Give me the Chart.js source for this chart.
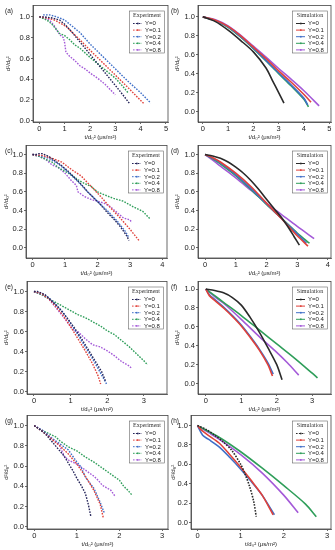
<!DOCTYPE html>
<html>
<head>
<meta charset="utf-8">
<script src="https://cdn.jsdelivr.net/npm/chart.js@4.4.0/dist/chart.umd.min.js"></script>
<style>
  html, body { margin: 0; padding: 0; background: #fff; }
  #fig { position: relative; width: 335px; height: 550px; overflow: hidden; }
  .panel { position: absolute; }
</style>
</head>
<body>
<div id="fig"></div>
<script>
// Serien und Achsen
const seriesLabels = ["Y=0", "Y=0.1", "Y=0.2", "Y=0.4", "Y=0.8"];
const expColors = ["#25255a", "#e0413a", "#3f6fc8", "#2f9e5a", "#a45ad8"];
const simColors = ["#2a2a2a", "#e0413a", "#3f6fc8", "#2f9e5a", "#a45ad8"];
const yTicks = [0, 0.2, 0.4, 0.6, 0.8, 1.0];
const xTicks5 = [0, 1, 2, 3, 4, 5];
const xTicks4 = [0, 1, 2, 3, 4];
const xTicks3 = [0, 1, 2, 3];
const xTitle = "t/d\u2080\u00b2 (\u03bcs/m\u00b2)";
const yTitle = "d\u00b2/d\u2080\u00b2";

// (a) Experiment
const aY0  = [[0,1.0],[0.2,1.0],[0.5,0.99],[0.8,0.97],[1.0,0.93],[1.3,0.85],[1.6,0.76],[2.0,0.64],[2.4,0.52],[2.8,0.4],[3.2,0.28],[3.55,0.17]];
const aY01 = [[0,1.0],[0.3,0.99],[0.6,0.97],[0.9,0.93],[1.1,0.9],[1.3,0.85],[1.6,0.78],[2.0,0.68],[2.5,0.56],[3.0,0.44],[3.5,0.32],[3.9,0.22],[4.15,0.16]];
const aY02 = [[0.15,1.02],[0.4,1.02],[0.7,1.0],[1.0,0.97],[1.3,0.91],[1.6,0.85],[2.0,0.74],[2.5,0.62],[3.0,0.5],[3.5,0.38],[4.0,0.27],[4.4,0.17]];
const aY04 = [[0,1.0],[0.3,0.97],[0.5,0.93],[0.7,0.87],[0.8,0.84],[1.0,0.82],[1.2,0.78],[1.4,0.73],[1.6,0.7],[2.0,0.61],[2.3,0.55],[2.6,0.49],[3.0,0.41],[3.3,0.33],[3.5,0.27]];
const aY08 = [[0,1.0],[0.2,0.99],[0.4,0.97],[0.6,0.91],[0.8,0.83],[0.95,0.8],[1.0,0.75],[1.05,0.66],[1.2,0.62],[1.4,0.58],[1.6,0.53],[1.8,0.5],[2.0,0.46],[2.3,0.41],[2.6,0.35],[2.8,0.3],[3.0,0.25]];

// (b) Simulation
const bY0  = [[0,1.0],[0.5,0.95],[1.0,0.86],[1.5,0.75],[2.0,0.63],[2.5,0.46],[2.75,0.33],[3.0,0.2],[3.21,0.09]];
const bY01 = [[0,1.0],[0.5,0.965],[1.0,0.9],[1.5,0.8],[2.0,0.68],[2.5,0.56],[3.0,0.43],[3.5,0.31],[4.0,0.18],[4.28,0.1]];
const bY02 = [[0,1.0],[0.5,0.96],[1.0,0.895],[1.5,0.79],[2.0,0.67],[2.5,0.54],[3.0,0.41],[3.5,0.28],[4.0,0.14],[4.15,0.07]];
const bY04 = [[0,1.0],[0.5,0.96],[1.0,0.89],[1.5,0.785],[2.0,0.665],[2.5,0.535],[3.0,0.4],[3.5,0.27],[4.0,0.13],[4.18,0.05]];
const bY08 = [[0,1.0],[0.5,0.97],[1.0,0.905],[1.5,0.805],[2.0,0.69],[2.5,0.575],[3.0,0.455],[3.5,0.34],[4.0,0.22],[4.6,0.06]];

// (c) Experiment
const cY0  = [[0,1.0],[0.1,1.0],[0.2,1.01],[0.3,1.01],[0.5,0.98],[0.7,0.93],[0.9,0.88],[1.1,0.82],[1.3,0.75],[1.5,0.68],[1.7,0.6],[1.9,0.53],[2.1,0.46],[2.3,0.38],[2.5,0.31],[2.7,0.23],[2.9,0.13],[2.97,0.08]];
const cY01 = [[0,1.0],[0.3,0.99],[0.6,0.96],[0.9,0.92],[1.2,0.84],[1.5,0.77],[1.8,0.66],[2.1,0.55],[2.4,0.43],[2.7,0.32],[3.0,0.2],[3.3,0.07]];
const cY02 = [[0,1.0],[0.2,0.99],[0.5,0.96],[0.8,0.9],[1.1,0.81],[1.4,0.71],[1.7,0.6],[2.0,0.5],[2.3,0.4],[2.6,0.29],[2.85,0.18],[2.95,0.12]];
const cY04 = [[0,1.0],[0.2,0.98],[0.4,0.95],[0.6,0.92],[0.8,0.86],[1.0,0.82],[1.2,0.78],[1.4,0.73],[1.6,0.69],[1.8,0.66],[2.0,0.6],[2.2,0.57],[2.5,0.53],[2.8,0.5],[3.1,0.44],[3.4,0.39],[3.62,0.31]];
const cY08 = [[0,1.0],[0.2,0.98],[0.4,0.95],[0.6,0.89],[0.8,0.86],[1.0,0.8],[1.2,0.72],[1.35,0.67],[1.4,0.6],[1.6,0.55],[1.8,0.52],[2.0,0.5],[2.2,0.48],[2.4,0.44],[2.6,0.38],[2.8,0.32],[3.0,0.3],[3.06,0.27]];

// (d) Simulation
const dY0  = [[0,1.0],[0.25,0.985],[0.5,0.96],[0.75,0.92],[1.0,0.865],[1.25,0.8],[1.5,0.72],[1.75,0.625],[2.0,0.52],[2.25,0.42],[2.5,0.32],[2.75,0.2],[2.9,0.12],[3.07,0.03]];
const dY01 = [[0,1.0],[0.25,0.965],[0.5,0.92],[1.0,0.8],[1.5,0.655],[2.0,0.48],[2.5,0.31],[3.0,0.13],[3.35,0.02]];
const dY02 = [[0,1.0],[0.25,0.96],[0.5,0.91],[1.0,0.785],[1.5,0.635],[2.0,0.47],[2.5,0.31],[3.0,0.15],[3.3,0.05]];
const dY04 = [[0,1.0],[0.25,0.955],[0.5,0.9],[1.0,0.775],[1.5,0.625],[2.0,0.465],[2.5,0.315],[3.0,0.16],[3.4,0.05]];
const dY08 = [[0,1.0],[0.25,0.94],[0.5,0.875],[1.0,0.75],[1.5,0.615],[2.0,0.48],[2.5,0.355],[3.0,0.23],[3.55,0.1]];

// (e) Experiment
const eY0  = [[0,1.0],[0.1,1.0],[0.3,0.97],[0.5,0.9],[0.7,0.83],[0.9,0.74],[1.1,0.64],[1.3,0.53],[1.5,0.41],[1.7,0.29],[1.85,0.2],[1.95,0.11]];
const eY01 = [[0,1.0],[0.2,0.98],[0.4,0.93],[0.6,0.85],[0.8,0.76],[1.0,0.65],[1.2,0.53],[1.4,0.41],[1.6,0.28],[1.75,0.16],[1.82,0.08]];
const eY02 = [[0,1.0],[0.2,0.98],[0.4,0.94],[0.6,0.87],[0.8,0.79],[1.0,0.68],[1.2,0.57],[1.4,0.45],[1.6,0.33],[1.8,0.2],[1.98,0.08]];
const eY04 = [[0,1.0],[0.2,0.97],[0.4,0.93],[0.6,0.89],[0.8,0.85],[1.0,0.81],[1.2,0.77],[1.4,0.74],[1.6,0.7],[1.8,0.66],[2.0,0.61],[2.2,0.57],[2.4,0.51],[2.6,0.45],[2.8,0.38],[3.0,0.31],[3.1,0.27]];
const eY08 = [[0,1.0],[0.2,0.97],[0.4,0.93],[0.6,0.84],[0.8,0.75],[1.0,0.65],[1.1,0.61],[1.2,0.6],[1.4,0.53],[1.6,0.47],[1.8,0.45],[2.0,0.41],[2.2,0.36],[2.4,0.3],[2.6,0.26],[2.65,0.24]];

// (f) Simulation
const fY0  = [[0,1.0],[0.25,0.985],[0.5,0.96],[0.75,0.91],[1.0,0.83],[1.25,0.7],[1.5,0.55],[1.75,0.38],[2.0,0.2],[2.15,0.04]];
const fY01 = [[0,1.0],[0.1,0.93],[0.25,0.88],[0.5,0.8],[0.75,0.71],[1.0,0.61],[1.25,0.49],[1.5,0.36],[1.75,0.2],[1.88,0.08]];
const fY02 = [[0,1.0],[0.1,0.94],[0.25,0.89],[0.5,0.81],[0.75,0.72],[1.0,0.62],[1.25,0.5],[1.5,0.37],[1.75,0.22],[1.9,0.1]];
const fY04 = [[0,1.0],[0.25,0.93],[0.5,0.86],[1.0,0.72],[1.5,0.57],[2.0,0.42],[2.5,0.27],[3.0,0.11],[3.15,0.06]];
const fY08 = [[0,1.0],[0.25,0.92],[0.5,0.85],[1.0,0.68],[1.5,0.5],[2.0,0.33],[2.3,0.22],[2.62,0.09]];

// (g) Experiment
const gY0  = [[0,1.0],[0.1,0.97],[0.2,0.94],[0.3,0.9],[0.4,0.85],[0.5,0.8],[0.6,0.75],[0.7,0.7],[0.8,0.63],[0.9,0.56],[1.0,0.48],[1.1,0.41],[1.2,0.33],[1.27,0.22],[1.33,0.1]];
const gY01 = [[0,1.0],[0.2,0.94],[0.4,0.87],[0.6,0.8],[0.8,0.72],[1.0,0.62],[1.2,0.5],[1.4,0.36],[1.55,0.22],[1.62,0.09]];
const gY02 = [[0,1.0],[0.2,0.95],[0.4,0.88],[0.6,0.82],[0.8,0.76],[1.0,0.64],[1.1,0.59],[1.2,0.49],[1.4,0.38],[1.55,0.24],[1.65,0.13]];
const gY04 = [[0,1.0],[0.1,0.97],[0.3,0.93],[0.5,0.89],[0.6,0.85],[0.8,0.79],[1.0,0.75],[1.2,0.69],[1.4,0.64],[1.6,0.58],[1.8,0.52],[2.0,0.46],[2.1,0.4],[2.2,0.36],[2.3,0.31]];
const gY08 = [[0,1.0],[0.2,0.95],[0.4,0.88],[0.6,0.8],[0.7,0.7],[0.8,0.66],[1.0,0.62],[1.2,0.56],[1.4,0.5],[1.5,0.46],[1.6,0.41],[1.8,0.36],[1.9,0.3]];

// (h) Simulation
const hY0  = [[0,1.0],[0.2,0.96],[0.4,0.9],[0.6,0.83],[0.8,0.74],[1.0,0.6],[1.1,0.5],[1.2,0.38],[1.3,0.22],[1.36,0.06]];
const hY01 = [[0,1.0],[0.1,0.95],[0.25,0.9],[0.5,0.82],[0.75,0.7],[1.0,0.57],[1.25,0.43],[1.5,0.28],[1.75,0.08]];
const hY02 = [[0,1.0],[0.12,0.9],[0.25,0.86],[0.5,0.78],[0.75,0.67],[1.0,0.55],[1.25,0.42],[1.5,0.28],[1.78,0.08]];
const hY04 = [[0,1.0],[0.5,0.88],[1.0,0.73],[1.5,0.56],[2.0,0.38],[2.5,0.19],[2.75,0.06]];
const hY08 = [[0,1.0],[0.25,0.93],[0.5,0.86],[1.0,0.7],[1.5,0.51],[2.0,0.28],[2.33,0.1]];

// Panel-Layout (Rahmen in Seitenpixeln: links, oben, rechts, unten)
const panels = [
  { tag: "(a)", kind: "Experiment", col: 0, sets: [aY0, aY01, aY02, aY04, aY08], xMin: -0.25, xMax: 5.08, xTicks: xTicks5, yMin: -0.012, yMax: 1.11, frame: [33, 3, 168, 122], yTitlePad: 5 },
  { tag: "(b)", kind: "Simulation", col: 1, sets: [bY0, bY01, bY02, bY04, bY08], xMin: -0.19, xMax: 5.07, xTicks: xTicks5, yMin: -0.11, yMax: 1.12, frame: [198, 3, 331, 122], yTitlePad: 6 },
  { tag: "(c)", kind: "Experiment", col: 0, sets: [cY0, cY01, cY02, cY04, cY08], xMin: -0.2, xMax: 4.14, xTicks: xTicks4, yMin: -0.108, yMax: 1.097, frame: [26, 143, 167, 258], yTitlePad: 3 },
  { tag: "(d)", kind: "Simulation", col: 1, sets: [dY0, dY01, dY02, dY04, dY08], xMin: -0.23, xMax: 4.1, xTicks: xTicks4, yMin: -0.108, yMax: 1.097, frame: [198, 143, 331, 258], yTitlePad: 6 },
  { tag: "(e)", kind: "Experiment", col: 0, sets: [eY0, eY01, eY02, eY04, eY08], xMin: -0.19, xMax: 3.63, xTicks: xTicks3, yMin: -0.02, yMax: 1.1, frame: [27, 279, 167, 394], yTitlePad: 3 },
  { tag: "(f)", kind: "Simulation", col: 1, sets: [fY0, fY01, fY02, fY04, fY08], xMin: -0.22, xMax: 3.53, xTicks: xTicks3, yMin: -0.11, yMax: 1.08, frame: [198, 279, 331, 394], yTitlePad: 6 },
  { tag: "(g)", kind: "Experiment", col: 0, sets: [gY0, gY01, gY02, gY04, gY08], xMin: -0.17, xMax: 3.14, xTicks: xTicks3, yMin: -0.022, yMax: 1.1, frame: [27, 413, 168, 529], yTitlePad: 3 },
  { tag: "(h)", kind: "Simulation", col: 1, sets: [hY0, hY01, hY02, hY04, hY08], xMin: -0.15, xMax: 3.09, xTicks: xTicks3, yMin: -0.067, yMax: 1.104, frame: [191, 413, 331, 529], yTitlePad: 2 },
];

const tickFont = { family: "'Liberation Sans', Arial, sans-serif", size: 7.5 };
const titleFont = { family: "'Liberation Sans', Arial, sans-serif", size: 6 };

// Rahmen, Panel-Buchstabe und Legende zeichnen
const panelDeco = {
  id: "panelDeco",
  afterDraw(chart, args, opts) {
    const { ctx, chartArea: ca } = chart;
    ctx.save();
    ctx.strokeStyle = "#444";
    ctx.lineWidth = 0.8;
    ctx.setLineDash([]);
    ctx.strokeRect(ca.left, ca.top, ca.right - ca.left, ca.bottom - ca.top);

    // Panel-Buchstabe
    ctx.fillStyle = "#222";
    ctx.font = "6.5px 'Liberation Sans', Arial, sans-serif";
    ctx.textAlign = "left";
    ctx.textBaseline = "top";
    ctx.fillText(opts.tag, opts.tagX, ca.top + 2);

    // Legende
    const lw = 35, lh = 42;
    const x0 = ca.right - 4 - lw, y0 = ca.top + 5;
    ctx.fillStyle = "#fff";
    ctx.fillRect(x0, y0, lw, lh);
    ctx.strokeStyle = "#666";
    ctx.lineWidth = 0.6;
    ctx.strokeRect(x0 + 0.5, y0 + 0.5, lw, lh);
    ctx.fillStyle = "#333";
    ctx.font = "6px 'Liberation Serif', 'Times New Roman', serif";
    ctx.textAlign = "center";
    ctx.textBaseline = "middle";
    ctx.fillText(opts.kind, x0 + lw / 2 + 0.5, y0 + 5);
    ctx.font = "6px 'Liberation Sans', Arial, sans-serif";
    ctx.textAlign = "left";
    chart.data.datasets.forEach((ds, i) => {
      const yy = y0 + 13 + i * 6.6;
      ctx.strokeStyle = ds.borderColor;
      ctx.lineWidth = 1;
      ctx.setLineDash(ds.borderDash || []);
      ctx.beginPath();
      ctx.moveTo(x0 + 4, yy);
      ctx.lineTo(x0 + 13, yy);
      ctx.stroke();
      ctx.setLineDash([]);
      ctx.fillStyle = ds.borderColor;
      ctx.fillRect(x0 + 8, yy - 0.8, 1.6, 1.6);
      ctx.fillStyle = "#222";
      ctx.fillText(ds.label, x0 + 16, yy + 0.3);
    });
    ctx.restore();
  },
};

const fig = document.getElementById("fig");

panels.forEach((p) => {
  const [L, T, R, B] = p.frame;
  const bx = p.col === 0 ? 0 : 168;
  const bw = p.col === 0 ? 170 : 167;
  const by = T - 3;
  const bh = B + 19 - by;
  const isExp = p.kind === "Experiment";

  const div = document.createElement("div");
  div.className = "panel";
  div.style.cssText = `left:${bx}px;top:${by}px;width:${bw}px;height:${bh}px`;
  const cv = document.createElement("canvas");
  cv.width = bw;
  cv.height = bh;
  div.appendChild(cv);
  fig.appendChild(div);

  const datasets = p.sets.map((pts, i) => {
    const dotted = isExp || (p.tag === "(h)" && i === 0);
    return {
      label: seriesLabels[i],
      data: pts.map(([x, y]) => ({ x, y })),
      borderColor: isExp ? expColors[i] : simColors[i],
      backgroundColor: isExp ? expColors[i] : simColors[i],
      borderWidth: isExp ? 1.4 : 1.6,
      borderDash: dotted ? [1.6, 1.3] : [],
      pointRadius: 0,
      showLine: true,
      tension: isExp ? 0 : 0.3,
    };
  });

  new Chart(cv, {
    type: "scatter",
    data: { datasets },
    options: {
      responsive: false,
      animation: false,
      devicePixelRatio: 1,
      layout: { padding: { left: 0, top: T - by, right: bx + bw - R, bottom: 0 } },
      plugins: {
        legend: { display: false },
        tooltip: { enabled: false },
        panelDeco: { tag: p.tag, kind: p.kind, tagX: p.col === 0 ? 5 : 3 },
      },
      scales: {
        x: {
          type: "linear",
          min: p.xMin,
          max: p.xMax,
          afterBuildTicks: (s) => { s.ticks = p.xTicks.map((v) => ({ value: v })); },
          afterFit: (s) => { s.height = by + bh - B; },
          ticks: { font: tickFont, color: "#222", padding: 0, maxRotation: 0, callback: (v) => String(v) },
          grid: { drawOnChartArea: false, tickLength: 2, color: "#444", lineWidth: 0.8 },
          border: { color: "#444", width: 0.8 },
          title: { display: true, text: xTitle, font: titleFont, color: "#222", padding: 0 },
        },
        y: {
          type: "linear",
          min: p.yMin,
          max: p.yMax,
          afterBuildTicks: (s) => { s.ticks = yTicks.map((v) => ({ value: v })); },
          afterFit: (s) => { s.width = L - bx; },
          ticks: { font: tickFont, color: "#222", padding: 1, callback: (v) => v.toFixed(1) },
          grid: { drawOnChartArea: false, tickLength: 2, color: "#444", lineWidth: 0.8 },
          border: { color: "#444", width: 0.8 },
          title: { display: true, text: yTitle, font: titleFont, color: "#222", padding: { top: p.yTitlePad, bottom: 0 } },
        },
      },
    },
    plugins: [panelDeco],
  });
});
</script>
</body>
</html>
